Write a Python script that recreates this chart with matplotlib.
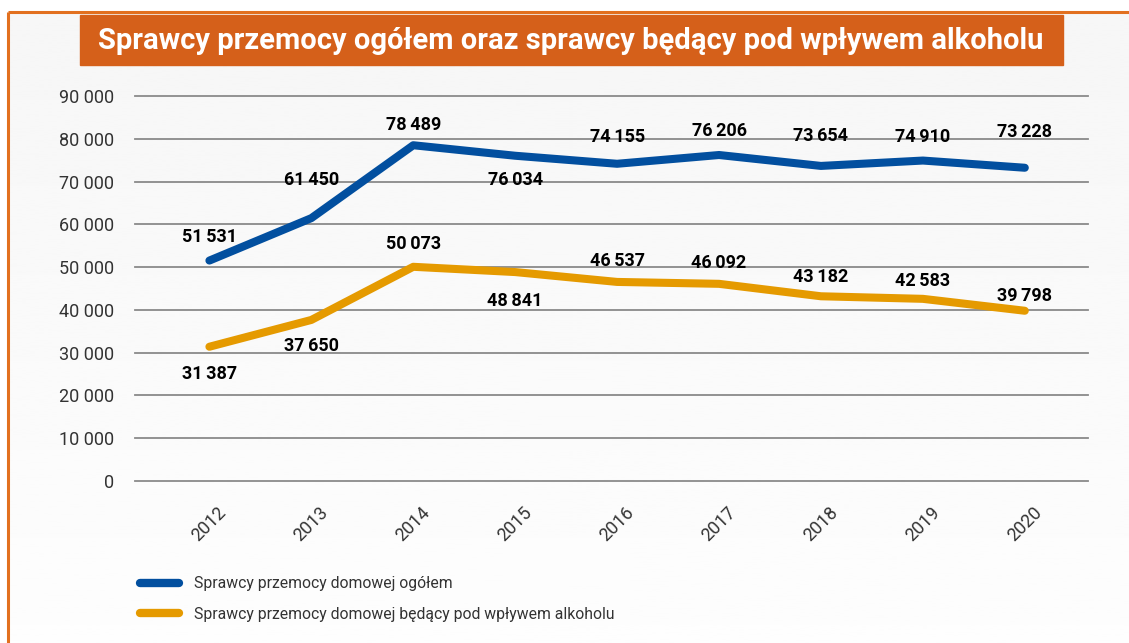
"""Sprawcy przemocy domowej ogółem vs. pod wpływem alkoholu, 2012-2020."""

import matplotlib

matplotlib.use("Agg")
import matplotlib.pyplot as plt  # noqa: E402
import numpy as np  # noqa: E402
from matplotlib.lines import Line2D  # noqa: E402
from matplotlib.patches import Rectangle  # noqa: E402

plt.rcParams["font.family"] = ["Roboto", "DejaVu Sans"]

TITLE = "Sprawcy przemocy ogółem oraz sprawcy będący pod wpływem alkoholu"
YEARS = [2012, 2013, 2014, 2015, 2016, 2017, 2018, 2019, 2020]
TOTAL = [51531, 61450, 78489, 76034, 74155, 76206, 73654, 74910, 73228]
ALCOHOL = [31387, 37650, 50073, 48841, 46537, 46092, 43182, 42583, 39798]
TOTAL_LABEL = "Sprawcy przemocy domowej ogółem"
ALCOHOL_LABEL = "Sprawcy przemocy domowej będący pod wpływem alkoholu"
Y_TICKS = [0, 10000, 20000, 30000, 40000, 50000, 60000, 70000, 80000, 90000]

# label offsets in pixels (positive = above the point)
TOTAL_OFFSETS = [24, 38, 20, -24, 27, 24, 30, 24, 36]
ALCOHOL_OFFSETS = [-27, -26, 23, -29, 21, 21, 19, 18, 15]

C_BLUE = "#024F9F"
C_ORANGE = "#E59A00"
C_TITLE = "#D5601A"
C_BORDER = "#E2701F"
C_GRID = "#8A8A8A"
C_TEXT = "#333333"

W, H = 1129, 643


def fmt(v: int) -> str:
    return f"{v:,}".replace(",", "\u2009")


def fmt_tick(v: int) -> str:
    return f"{v:,}".replace(",", " ")


fig = plt.figure(figsize=(W / 100, H / 100), dpi=100)

# soft gray panel behind everything, fading to white at the bottom
bg = fig.add_axes([0, 0, 1, 1], zorder=-10)
bg.set_xlim(0, W)
bg.set_ylim(H, 0)
bg.axis("off")
grad = np.linspace(0.965, 0.993, 256).reshape(-1, 1)
bg.imshow(grad, cmap="gray", vmin=0, vmax=1, extent=(9, W, H, 13), aspect="auto")
bg.plot([8, W], [12, 12], color=C_BORDER, lw=2.2, solid_capstyle="butt")
bg.plot([8, 8], [12, H], color=C_BORDER, lw=2.2, solid_capstyle="butt")
bg.add_patch(Rectangle((80, 15), 983, 50, color=C_TITLE))
bg.text(571, 41, TITLE, color="white", fontsize=21, fontweight="bold",
        ha="center", va="center")

ax = fig.add_axes([135 / W, (H - 481) / H, 953 / W, 385 / H])
ax.patch.set_visible(False)
x = np.array(YEARS)
ax.plot(x, TOTAL, color=C_BLUE, lw=5.8, solid_capstyle="round", solid_joinstyle="round")
ax.plot(x, ALCOHOL, color=C_ORANGE, lw=5.8, solid_capstyle="round", solid_joinstyle="round")

for xi, v, off in zip(x, TOTAL, TOTAL_OFFSETS):
    ax.annotate(fmt(v), (xi, v), xytext=(0, off), textcoords="offset pixels",
                ha="center", va="center", fontsize=13, fontweight="bold", color="black")
for xi, v, off in zip(x, ALCOHOL, ALCOHOL_OFFSETS):
    ax.annotate(fmt(v), (xi, v), xytext=(0, off), textcoords="offset pixels",
                ha="center", va="center", fontsize=13, fontweight="bold", color="black")

ax.set_xlim(2011.27, 2020.62)
ax.set_ylim(0, 90000)
for t in Y_TICKS:
    ax.axhline(t, color=C_GRID, lw=1.3, zorder=0, clip_on=False)
ax.set_yticks(Y_TICKS)
ax.set_yticklabels([fmt_tick(t) for t in Y_TICKS], fontsize=13, color=C_TEXT)
ax.set_xticks(x)
ax.set_xticklabels([str(y) for y in YEARS], rotation=45, fontsize=13, color=C_TEXT)
ax.tick_params(axis="y", length=0, pad=15)
ax.tick_params(axis="x", length=0, pad=16)
for spine in ax.spines.values():
    spine.set_visible(False)

handles = [
    Line2D([], [], color=C_BLUE, lw=6, solid_capstyle="round"),
    Line2D([], [], color=C_ORANGE, lw=6, solid_capstyle="round"),
]
fig.legend(handles, [TOTAL_LABEL, ALCOHOL_LABEL], loc="upper left",
           bbox_to_anchor=(126 / W, 1 - 562 / H), frameon=False, fontsize=11.3,
           labelcolor=C_TEXT, handlelength=2.5, handletextpad=0.95, labelspacing=1.0)

fig.savefig("out.png", dpi=100)
